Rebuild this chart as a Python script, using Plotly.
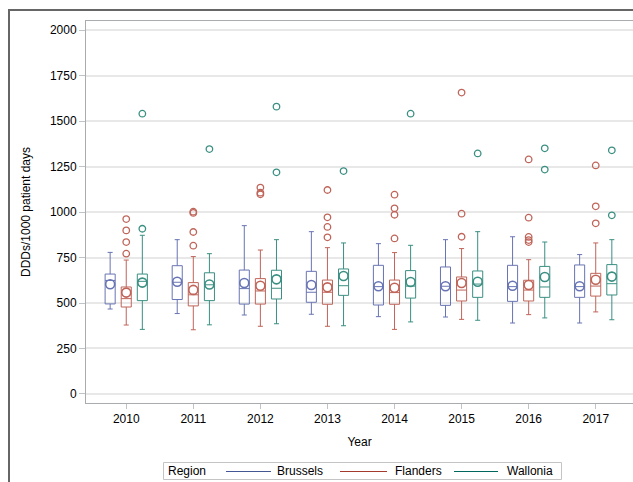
import plotly.graph_objects as go

years = ["2010", "2011", "2012", "2013", "2014", "2015", "2016", "2017"]
regions = ["Brussels", "Flanders", "Wallonia"]
box_colors = ["#6874b3", "#bf6459", "#3a8f82"]
legend_colors = ["#445694", "#A23A2E", "#01665E"]
offsets = [-0.24, 0.0, 0.24]

brussels_upper = [778, 848, 925, 892, 826, 848, 864, 766]
brussels_q3 = [659, 705, 681, 674, 707, 698, 707, 709]
brussels_median = [624, 614, 579, 559, 590, 592, 590, 590]
brussels_q1 = [495, 519, 494, 504, 489, 487, 509, 531]
brussels_lower = [467, 442, 434, 438, 425, 423, 390, 390]
brussels_mean = [603, 617, 610, 599, 592, 592, 595, 592]
brussels_outlier_years = []
brussels_outlier_values = []

flanders_upper = [736, 755, 791, 804, 777, 799, 738, 830]
flanders_q3 = [588, 612, 634, 626, 626, 643, 625, 663]
flanders_median = [524, 545, 566, 559, 557, 571, 571, 593]
flanders_q1 = [478, 484, 494, 493, 493, 511, 511, 538]
flanders_lower = [379, 353, 372, 372, 355, 410, 436, 451]
flanders_mean = [557, 572, 595, 586, 584, 610, 599, 628]
flanders_outlier_years = ["2010"] * 4 + ["2011"] * 4 + ["2012"] * 3 + ["2013"] * 4 + \
    ["2014"] * 4 + ["2015"] * 3 + ["2016"] * 5 + ["2017"] * 3
flanders_outlier_values = [961, 899, 835, 771, 1002, 995, 890, 815, 1134, 1106, 1097,
                           1121, 971, 918, 861, 1095, 1020, 985, 855, 1656, 991, 864,
                           1289, 969, 863, 846, 835, 1256, 1031, 938]

wallonia_upper = [872, 771, 848, 830, 817, 892, 835, 848]
wallonia_q3 = [659, 666, 680, 687, 678, 676, 701, 711]
wallonia_median = [619, 600, 581, 595, 593, 604, 588, 606]
wallonia_q1 = [513, 513, 522, 542, 527, 531, 531, 544]
wallonia_lower = [355, 380, 386, 375, 396, 405, 418, 408]
wallonia_mean = [612, 602, 630, 648, 615, 617, 643, 645]
wallonia_outlier_years = ["2010", "2010", "2011", "2012", "2012", "2013", "2014", "2015",
                          "2016", "2016", "2017", "2017"]
wallonia_outlier_values = [1540, 908, 1346, 1579, 1218, 1225, 1540, 1322, 1350, 1233, 1339, 982]

y_ticks = [0, 250, 500, 750, 1000, 1250, 1500, 1750, 2000]
legend_title = "Region"

stats = [
    (brussels_q1, brussels_median, brussels_q3, brussels_lower, brussels_upper, brussels_mean,
     brussels_outlier_years, brussels_outlier_values),
    (flanders_q1, flanders_median, flanders_q3, flanders_lower, flanders_upper, flanders_mean,
     flanders_outlier_years, flanders_outlier_values),
    (wallonia_q1, wallonia_median, wallonia_q3, wallonia_lower, wallonia_upper, wallonia_mean,
     wallonia_outlier_years, wallonia_outlier_values),
]

FONT = "Liberation Sans, Arial, sans-serif"
fig = go.Figure()
yidx = {y: i for i, y in enumerate(years)}

for name, col, off, (q1, med, q3, lo, up, mean, oy, ov) in zip(regions, box_colors, offsets, stats):
    pos = [i + off for i in range(len(years))]
    fig.add_trace(go.Box(
        x=pos, q1=q1, median=med, q3=q3, lowerfence=lo, upperfence=up,
        width=0.15, whiskerwidth=0.5, boxpoints=False, name=name,
        line=dict(color=col, width=1), fillcolor="rgba(0,0,0,0)",
        showlegend=False, hoverinfo="skip"))
    fig.add_trace(go.Scatter(
        x=pos, y=mean, mode="markers", showlegend=False, name=name,
        marker=dict(symbol="circle-open", size=9, color=col, line=dict(width=1.6))))
    if ov:
        fig.add_trace(go.Scatter(
            x=[yidx[y] + off for y in oy], y=ov, mode="markers", showlegend=False, name=name,
            marker=dict(symbol="circle-open", size=6.5, color=col, line=dict(width=1.3))))

L, R, T, B = 86, 0, 21, 79
W, H = 633, 482
pw = W - L - R
ph = H - T - B


def px(x):
    return (x - L) / pw


def py(y):
    return (H - B - y) / ph


shapes = [dict(type="rect", xref="paper", yref="paper",
               x0=px(9), x1=1.05, y0=-0.3, y1=py(10),
               line=dict(color="#666666", width=2), layer="below")]
annotations = []

# manual legend (lines + labels)
shapes.append(dict(type="rect", xref="paper", yref="paper",
                   x0=px(163.5), x1=px(561.5), y0=py(479.5), y1=py(462.5),
                   line=dict(color="#c4c4c4", width=1), fillcolor="white"))
annotations.append(dict(text=legend_title, xref="paper", yref="paper", x=px(166), y=py(471),
                        xanchor="left", yanchor="middle", showarrow=False,
                        font=dict(size=12, color="#000000")))
leg_line_x = [(226, 271), (340, 387), (454, 498)]
leg_text_x = [275, 393, 505]
for name, col, (a, b), tx in zip(regions, legend_colors, leg_line_x, leg_text_x):
    shapes.append(dict(type="line", xref="paper", yref="paper",
                       x0=px(a), x1=px(b), y0=py(471.5), y1=py(471.5),
                       line=dict(color=col, width=1)))
    annotations.append(dict(text=name, xref="paper", yref="paper", x=px(tx), y=py(471),
                            xanchor="left", yanchor="middle", showarrow=False,
                            font=dict(size=12, color="#000000")))

fig.update_layout(
    width=W, height=H,
    margin=dict(l=L, r=R, t=T, b=B),
    paper_bgcolor="white", plot_bgcolor="white",
    font=dict(family=FONT, size=12, color="#000000"),
    showlegend=False,
    xaxis=dict(
        range=[-0.6, -0.6 + pw / 67.07],
        tickmode="array", tickvals=list(range(len(years))), ticktext=years,
        showgrid=False, zeroline=False,
        showline=True, linecolor="#a8acaf", linewidth=1, mirror=True,
        ticks="outside", ticklen=5, tickcolor="#c0c4c6",
        title=dict(text="Year", font=dict(size=12), standoff=12),
        tickfont=dict(size=12),
    ),
    yaxis=dict(
        range=[-49.5, 2049.5],
        tickmode="array", tickvals=y_ticks,
        showgrid=True, gridcolor="#e8e8e8", gridwidth=1.5,
        zeroline=False,
        showline=True, linecolor="#a8acaf", linewidth=1,
        ticks="outside", ticklen=6, tickcolor="#c0c4c6",
        title=dict(text="DDDs/1000 patient days", font=dict(size=12), standoff=16),
        tickfont=dict(size=12),
    ),
    shapes=shapes,
    annotations=annotations,
)

fig.write_html("out.html")
